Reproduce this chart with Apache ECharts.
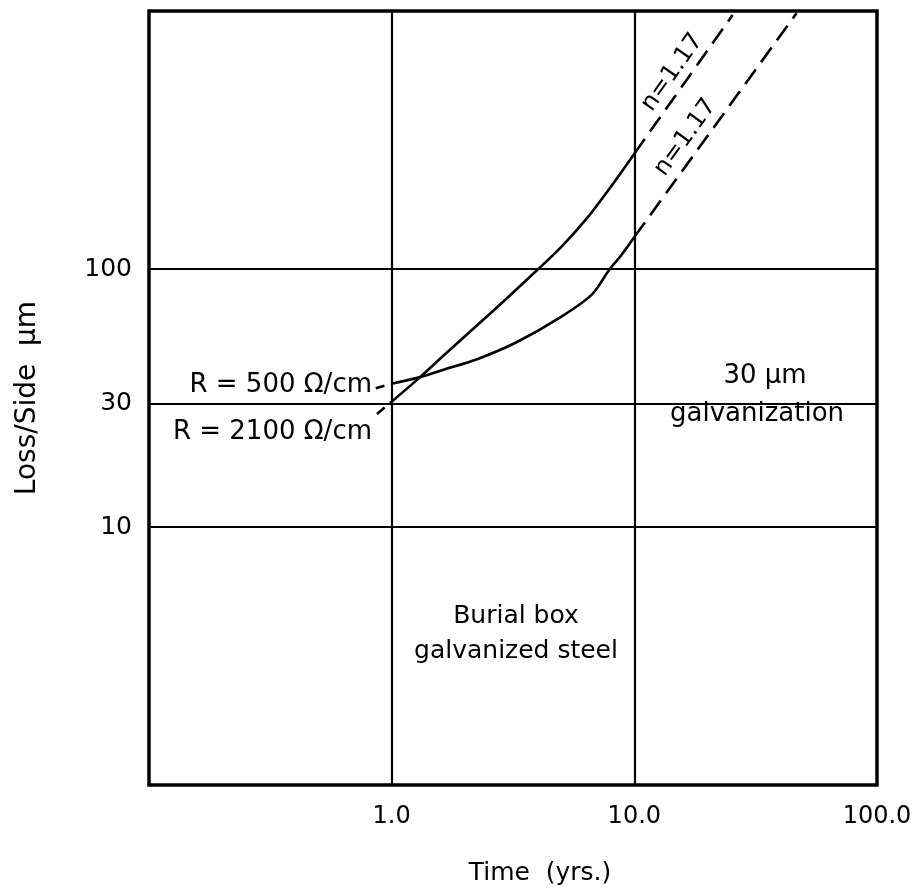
<!DOCTYPE html>
<html>
<head>
<meta charset="utf-8">
<script src="https://cdn.jsdelivr.net/npm/echarts@6/dist/echarts.min.js"></script>
<style>html,body{margin:0;padding:0;background:#fff}#c{width:920px;height:892px}</style>
</head>
<body>
<div id="c"></div>
<script>
// ---- data ----
const time2100 = [1.0, 1.31, 1.65, 2.25, 3.07, 4.02, 5.05, 6.47, 8.05, 10];
const loss2100 = [30.6, 38.1, 46.5, 60.5, 78.9, 100, 123, 160, 210, 280];
const time500 = [1.0, 1.31, 1.65, 2.25, 3.27, 4.89, 6.68, 7.92, 8.83, 10];
const loss500 = [35.9, 38.1, 40.8, 44.7, 52.0, 64.5, 79.6, 100, 113, 133];
// n = 1.17 extrapolations (dashed)
const ext2100Time = [10, 25.4];
const ext2100Loss = [280, 964];
const ext500Time = [10, 46.6];
const ext500Loss = [133, 981];
// short dashed lead-ins at the left end
const lead2100Time = [0.87, 1.0];
const lead2100Loss = [27.4, 30.6];
const lead500Time = [0.86, 1.0];
const lead500Loss = [34.5, 35.9];
// axis labels and grid lines
const xTickValues = [1, 10, 100];
const yTickValues = [10, 30, 100];
const xGridValues = [1, 10];
const yGridValues = [10, 30, 100];
const slopeLabel = 'n=1.17';

const pairs = (xs, ys) => xs.map((x, i) => [x, ys[i]]);
const FONT = '"DejaVu Sans", sans-serif';
const black = '#000';

const chart = echarts.init(document.getElementById('c'), null, {renderer: 'canvas'});

const solid = {color: black, width: 2.6, type: 'solid'};
const dashed = {color: black, width: 2.6, type: [18, 9]};

const option = {
  animation: false,
  backgroundColor: '#fff',
  grid: {left: 149, right: 43, top: 11, bottom: 107, show: true, borderColor: black, borderWidth: 3.5, backgroundColor: 'transparent'},
  xAxis: {
    type: 'log', logBase: 10, min: 0.1, max: 100,
    name: 'Time  (yrs.)', nameLocation: 'middle', nameGap: 76,
    nameTextStyle: {fontFamily: FONT, fontSize: 25, color: black, padding: [0, 0, 0, 54]},
    axisLine: {show: false}, axisTick: {show: false}, splitLine: {show: false},
    axisLabel: {
      customValues: xTickValues, margin: 20, color: black, fontFamily: FONT, fontSize: 24,
      formatter: v => Number(v).toFixed(1)
    }
  },
  yAxis: {
    type: 'log', logBase: 10, min: 1, max: 1000,
    name: 'Loss/Side  μm', nameLocation: 'middle', nameGap: 107, nameRotate: 90,
    nameTextStyle: {fontFamily: FONT, fontSize: 28, color: black},
    axisLine: {show: false}, axisTick: {show: false}, splitLine: {show: false},
    axisLabel: {
      customValues: yTickValues, margin: 17, color: black, fontFamily: FONT, fontSize: 25,
      formatter: v => String(Math.round(v))
    }
  },
  series: [
    {
      type: 'line', name: 'R=2100', data: pairs(time2100, loss2100), smooth: 0.3,
      showSymbol: false, lineStyle: solid, silent: true, z: 3,
      markLine: {
        silent: true, symbol: ['none', 'none'], label: {show: false},
        lineStyle: {color: black, width: 2.2, type: 'solid'},
        data: [
          ...xGridValues.map(v => ({xAxis: v})),
          ...yGridValues.map(v => ({yAxis: v}))
        ]
      }
    },
    {type: 'line', name: 'R=500', data: pairs(time500, loss500), smooth: 0.3, showSymbol: false, lineStyle: solid, silent: true, z: 3},
    {type: 'line', name: 'R=2100 ext', data: pairs(ext2100Time, ext2100Loss), showSymbol: false, lineStyle: dashed, silent: true, z: 3},
    {type: 'line', name: 'R=500 ext', data: pairs(ext500Time, ext500Loss), showSymbol: false, lineStyle: dashed, silent: true, z: 3},
    {type: 'line', name: 'R=2100 lead', data: pairs(lead2100Time, lead2100Loss), showSymbol: false, lineStyle: {color: black, width: 2.6, type: [10, 7]}, silent: true, z: 3},
    {type: 'line', name: 'R=500 lead', data: pairs(lead500Time, lead500Loss), showSymbol: false, lineStyle: {color: black, width: 2.6, type: [9, 7]}, silent: true, z: 3}
  ]
};
chart.setOption(option);

// annotation texts
const txt = (x, y, text, size, align) => ({
  type: 'text', x, y, silent: true,
  style: {text, textAlign: align || 'center', textVerticalAlign: 'middle', font: size + 'px ' + FONT, fill: black}
});

// slope labels placed along the dashed extrapolation lines
function slopeText(tx, ty, t, offset) {
  const a = chart.convertToPixel({gridIndex: 0}, [tx[0], ty[0]]);
  const b = chart.convertToPixel({gridIndex: 0}, [tx[1], ty[1]]);
  const dx = b[0] - a[0], dy = b[1] - a[1];
  const len = Math.hypot(dx, dy);
  const ux = dx / len, uy = dy / len;
  const nx = uy, ny = -ux;
  const px = a[0] + dx * t + nx * offset;
  const py = a[1] + dy * t + ny * offset;
  return {
    type: 'text', x: px, y: py, rotation: -Math.atan2(dy, dx), silent: true,
    style: {text: slopeLabel, textAlign: 'center', textVerticalAlign: 'middle', font: '24px ' + FONT, fill: black}
  };
}

chart.setOption({
  graphic: [
    txt(372, 385, 'R = 500 Ω/cm', 26, 'right'),
    txt(372, 432, 'R = 2100 Ω/cm', 26, 'right'),
    txt(765, 376, '30 μm', 26),
    txt(757, 414, 'galvanization', 26),
    txt(516, 616, 'Burial box', 25),
    txt(516, 651, 'galvanized steel', 25),
    slopeText(ext2100Time, ext2100Loss, 0.52, 16),
    slopeText(ext500Time, ext500Loss, 0.40, 17)
  ]
});
</script>
</body>
</html>
